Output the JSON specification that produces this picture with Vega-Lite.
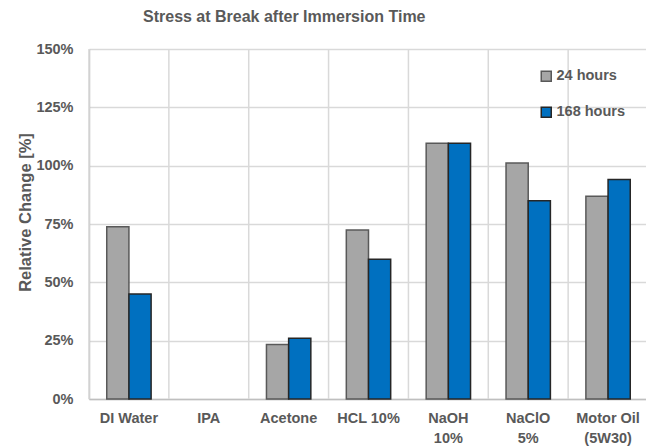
{
  "$schema": "https://vega.github.io/schema/vega-lite/v6.json",
  "autosize": "none",
  "width": 559,
  "height": 350,
  "padding": {"left": 89, "top": 49, "right": 0, "bottom": 47},
  "background": "white",
  "title": {
    "text": "Stress at Break after Immersion Time",
    "anchor": "start",
    "frame": "group",
    "dx": 54,
    "offset": 16,
    "font": "Liberation Sans",
    "fontSize": 16,
    "fontWeight": "bold",
    "color": "#595959"
  },
  "datasets": {
    "bars": [
      {"cat": "DI Water", "time": "24 hours", "value": 73.8},
      {"cat": "DI Water", "time": "168 hours", "value": 45.0},
      {"cat": "Acetone", "time": "24 hours", "value": 23.4},
      {"cat": "Acetone", "time": "168 hours", "value": 26.0},
      {"cat": "HCL 10%", "time": "24 hours", "value": 72.4},
      {"cat": "HCL 10%", "time": "168 hours", "value": 59.9},
      {"cat": "NaOH|10%", "time": "24 hours", "value": 109.6},
      {"cat": "NaOH|10%", "time": "168 hours", "value": 109.6},
      {"cat": "NaClO|5%", "time": "24 hours", "value": 101.1},
      {"cat": "NaClO|5%", "time": "168 hours", "value": 85.0},
      {"cat": "Motor Oil|(5W30)", "time": "24 hours", "value": 86.9},
      {"cat": "Motor Oil|(5W30)", "time": "168 hours", "value": 94.1}
    ],
    "cats": [
      {"cat": "DI Water"}, {"cat": "IPA"}, {"cat": "Acetone"}, {"cat": "HCL 10%"},
      {"cat": "NaOH|10%"}, {"cat": "NaClO|5%"}, {"cat": "Motor Oil|(5W30)"}
    ]
  },
  "layer": [
    {
      "data": {"name": "cats"},
      "mark": {"type": "rule", "color": "#d9d9d9", "strokeWidth": 1.5},
      "encoding": {
        "x": {"field": "cat", "type": "nominal", "bandPosition": 0}
      }
    },
    {
      "data": {"name": "bars"},
      "mark": {"type": "bar", "strokeWidth": 1.5},
      "encoding": {
        "x": {"field": "cat", "type": "nominal"},
        "xOffset": {"field": "time", "type": "nominal", "sort": ["24 hours", "168 hours"],
          "scale": {"domain": ["24 hours", "168 hours"], "paddingOuter": 0.8, "paddingInner": 0}},
        "y": {"field": "value", "type": "quantitative"},
        "color": {
          "field": "time", "type": "nominal",
          "scale": {"domain": ["24 hours", "168 hours"], "range": ["#a6a6a6", "#0070c0"]},
          "legend": {
            "title": null,
            "orient": "none",
            "legendX": 450,
            "legendY": 20,
            "symbolType": "square",
            "symbolSize": 100,
            "symbolStrokeWidth": 1.5,
            "symbolStrokeColor": "#404040",
            "rowPadding": 19,
            "labelFont": "Liberation Sans",
            "labelFontSize": 14.5,
            "labelFontWeight": "bold",
            "labelColor": "#595959",
            "labelOffset": 3
          }
        },
        "stroke": {
          "field": "time", "type": "nominal",
          "scale": {"domain": ["24 hours", "168 hours"], "range": ["#595959", "#262626"]},
          "legend": null
        }
      }
    },
    {
      "mark": {"type": "rule", "color": "#d42a2a", "strokeWidth": 2, "strokeDash": [8, 5]},
      "encoding": {"y": {"datum": 100}}
    }
  ],
  "encoding": {
    "x": {
      "field": "cat",
      "type": "nominal",
      "scale": {
        "domain": ["DI Water", "IPA", "Acetone", "HCL 10%", "NaOH|10%", "NaClO|5%", "Motor Oil|(5W30)"],
        "paddingInner": 0, "paddingOuter": 0
      },
      "axis": {
        "title": null,
        "labelAngle": 0,
        "labelExpr": "split(datum.label, '|')",
        "labelFont": "Liberation Sans",
        "labelFontSize": 14.5,
        "labelFontWeight": "bold",
        "labelColor": "#595959",
        "labelPadding": 12,
        "labelLineHeight": 20,
        "labelBaseline": "top",
        "ticks": false,
        "grid": false,
        "domainColor": "#bfbfbf",
        "domainWidth": 1.5
      }
    },
    "y": {
      "type": "quantitative",
      "scale": {"domain": [0, 150], "nice": false},
      "axis": {
        "title": "Relative Change [%]",
        "titleFont": "Liberation Sans",
        "titleFontSize": 16.5,
        "titleFontWeight": "bold",
        "titleColor": "#595959",
        "titlePadding": 2,
        "titleY": 163,
        "values": [0, 25, 50, 75, 100, 125, 150],
        "labelExpr": "datum.value + '%'",
        "labelFont": "Liberation Sans",
        "labelFontSize": 14.5,
        "labelFontWeight": "bold",
        "labelColor": "#595959",
        "labelPadding": 16,
        "ticks": false,
        "grid": true,
        "gridColor": "#d9d9d9",
        "gridWidth": 1.5,
        "domainColor": "#bfbfbf",
        "domainWidth": 1.5
      }
    }
  },
  "config": {"view": {"stroke": null}}
}
